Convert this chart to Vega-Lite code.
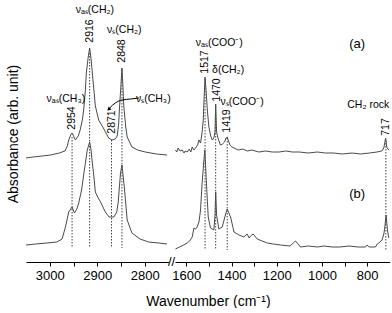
{
  "$schema": "https://vega.github.io/schema/vega-lite/v6.json",
  "padding": {"left": 6, "top": 5, "right": 0, "bottom": 0},
  "background": "white",
  "config": {
    "view": {"stroke": null},
    "font": "Liberation Sans",
    "axis": {"labelFont": "Liberation Sans", "titleFont": "Liberation Sans", "titleFontWeight": "normal", "labelColor": "black", "titleColor": "black", "domainColor": "black", "tickColor": "black", "grid": false}
  },
  "datasets": {
    "spec": [
      {"p": "L", "s": "a", "w": 3050, "y": 104}, {"p": "L", "s": "a", "w": 3035, "y": 105}, {"p": "L", "s": "a", "w": 3016, "y": 106}, {"p": "L", "s": "a", "w": 2998, "y": 107}, {"p": "L", "s": "a", "w": 2980, "y": 109}, {"p": "L", "s": "a", "w": 2968, "y": 111}, {"p": "L", "s": "a", "w": 2963, "y": 116}, {"p": "L", "s": "a", "w": 2960, "y": 122}, {"p": "L", "s": "a", "w": 2956, "y": 127}, {"p": "L", "s": "a", "w": 2953, "y": 129}, {"p": "L", "s": "a", "w": 2949, "y": 125}, {"p": "L", "s": "a", "w": 2946, "y": 122}, {"p": "L", "s": "a", "w": 2940, "y": 126}, {"p": "L", "s": "a", "w": 2936, "y": 132}, {"p": "L", "s": "a", "w": 2931, "y": 143}, {"p": "L", "s": "a", "w": 2928, "y": 155}, {"p": "L", "s": "a", "w": 2925, "y": 172}, {"p": "L", "s": "a", "w": 2923, "y": 189}, {"p": "L", "s": "a", "w": 2919, "y": 205}, {"p": "L", "s": "a", "w": 2916, "y": 214}, {"p": "L", "s": "a", "w": 2913, "y": 203}, {"p": "L", "s": "a", "w": 2909, "y": 182}, {"p": "L", "s": "a", "w": 2904, "y": 156}, {"p": "L", "s": "a", "w": 2897, "y": 142}, {"p": "L", "s": "a", "w": 2886, "y": 133}, {"p": "L", "s": "a", "w": 2876, "y": 124}, {"p": "L", "s": "a", "w": 2869, "y": 122}, {"p": "L", "s": "a", "w": 2862, "y": 123}, {"p": "L", "s": "a", "w": 2858, "y": 126}, {"p": "L", "s": "a", "w": 2855, "y": 138}, {"p": "L", "s": "a", "w": 2853, "y": 155}, {"p": "L", "s": "a", "w": 2850, "y": 178}, {"p": "L", "s": "a", "w": 2848, "y": 194}, {"p": "L", "s": "a", "w": 2846, "y": 176}, {"p": "L", "s": "a", "w": 2844, "y": 155}, {"p": "L", "s": "a", "w": 2840, "y": 135}, {"p": "L", "s": "a", "w": 2837, "y": 125}, {"p": "L", "s": "a", "w": 2827, "y": 115}, {"p": "L", "s": "a", "w": 2815, "y": 112}, {"p": "L", "s": "a", "w": 2799, "y": 110}, {"p": "L", "s": "a", "w": 2775, "y": 108}, {"p": "L", "s": "a", "w": 2753, "y": 107},
      {"p": "L", "s": "b", "w": 3050, "y": 17}, {"p": "L", "s": "b", "w": 3030, "y": 18}, {"p": "L", "s": "b", "w": 3006, "y": 19}, {"p": "L", "s": "b", "w": 2985, "y": 20}, {"p": "L", "s": "b", "w": 2974, "y": 23}, {"p": "L", "s": "b", "w": 2967, "y": 35}, {"p": "L", "s": "b", "w": 2960, "y": 50}, {"p": "L", "s": "b", "w": 2953, "y": 55}, {"p": "L", "s": "b", "w": 2948, "y": 49}, {"p": "L", "s": "b", "w": 2943, "y": 53}, {"p": "L", "s": "b", "w": 2939, "y": 59}, {"p": "L", "s": "b", "w": 2933, "y": 72}, {"p": "L", "s": "b", "w": 2928, "y": 89}, {"p": "L", "s": "b", "w": 2921, "y": 112}, {"p": "L", "s": "b", "w": 2916, "y": 120}, {"p": "L", "s": "b", "w": 2913, "y": 112}, {"p": "L", "s": "b", "w": 2911, "y": 102}, {"p": "L", "s": "b", "w": 2907, "y": 85}, {"p": "L", "s": "b", "w": 2904, "y": 70}, {"p": "L", "s": "b", "w": 2898, "y": 64}, {"p": "L", "s": "b", "w": 2893, "y": 60}, {"p": "L", "s": "b", "w": 2883, "y": 50}, {"p": "L", "s": "b", "w": 2875, "y": 45}, {"p": "L", "s": "b", "w": 2865, "y": 45}, {"p": "L", "s": "b", "w": 2859, "y": 50}, {"p": "L", "s": "b", "w": 2856, "y": 59}, {"p": "L", "s": "b", "w": 2851, "y": 89}, {"p": "L", "s": "b", "w": 2848, "y": 97}, {"p": "L", "s": "b", "w": 2843, "y": 75}, {"p": "L", "s": "b", "w": 2837, "y": 42}, {"p": "L", "s": "b", "w": 2827, "y": 29}, {"p": "L", "s": "b", "w": 2810, "y": 23}, {"p": "L", "s": "b", "w": 2792, "y": 20}, {"p": "L", "s": "b", "w": 2770, "y": 19}, {"p": "L", "s": "b", "w": 2753, "y": 18},
      {"p": "R", "s": "a", "w": 1648, "y": 112}, {"p": "R", "s": "a", "w": 1642, "y": 110}, {"p": "R", "s": "a", "w": 1636, "y": 114}, {"p": "R", "s": "a", "w": 1628, "y": 111}, {"p": "R", "s": "a", "w": 1618, "y": 112}, {"p": "R", "s": "a", "w": 1610, "y": 109}, {"p": "R", "s": "a", "w": 1605, "y": 111}, {"p": "R", "s": "a", "w": 1596, "y": 110}, {"p": "R", "s": "a", "w": 1587, "y": 113}, {"p": "R", "s": "a", "w": 1580, "y": 110}, {"p": "R", "s": "a", "w": 1574, "y": 115}, {"p": "R", "s": "a", "w": 1566, "y": 112}, {"p": "R", "s": "a", "w": 1559, "y": 114}, {"p": "R", "s": "a", "w": 1550, "y": 117}, {"p": "R", "s": "a", "w": 1544, "y": 122}, {"p": "R", "s": "a", "w": 1537, "y": 119}, {"p": "R", "s": "a", "w": 1530, "y": 130}, {"p": "R", "s": "a", "w": 1525, "y": 142}, {"p": "R", "s": "a", "w": 1521, "y": 165}, {"p": "R", "s": "a", "w": 1517, "y": 185}, {"p": "R", "s": "a", "w": 1512, "y": 170}, {"p": "R", "s": "a", "w": 1507, "y": 152}, {"p": "R", "s": "a", "w": 1500, "y": 135}, {"p": "R", "s": "a", "w": 1492, "y": 126}, {"p": "R", "s": "a", "w": 1485, "y": 122}, {"p": "R", "s": "a", "w": 1478, "y": 124}, {"p": "R", "s": "a", "w": 1473, "y": 130}, {"p": "R", "s": "a", "w": 1470, "y": 158}, {"p": "R", "s": "a", "w": 1466, "y": 130}, {"p": "R", "s": "a", "w": 1460, "y": 124}, {"p": "R", "s": "a", "w": 1449, "y": 117}, {"p": "R", "s": "a", "w": 1440, "y": 118}, {"p": "R", "s": "a", "w": 1431, "y": 120}, {"p": "R", "s": "a", "w": 1424, "y": 124}, {"p": "R", "s": "a", "w": 1419, "y": 125}, {"p": "R", "s": "a", "w": 1413, "y": 121}, {"p": "R", "s": "a", "w": 1407, "y": 117}, {"p": "R", "s": "a", "w": 1398, "y": 115}, {"p": "R", "s": "a", "w": 1389, "y": 114}, {"p": "R", "s": "a", "w": 1370, "y": 112}, {"p": "R", "s": "a", "w": 1350, "y": 113}, {"p": "R", "s": "a", "w": 1330, "y": 111}, {"p": "R", "s": "a", "w": 1310, "y": 112}, {"p": "R", "s": "a", "w": 1279, "y": 110}, {"p": "R", "s": "a", "w": 1250, "y": 111}, {"p": "R", "s": "a", "w": 1220, "y": 110}, {"p": "R", "s": "a", "w": 1190, "y": 110}, {"p": "R", "s": "a", "w": 1160, "y": 111}, {"p": "R", "s": "a", "w": 1131, "y": 110}, {"p": "R", "s": "a", "w": 1100, "y": 110}, {"p": "R", "s": "a", "w": 1060, "y": 109}, {"p": "R", "s": "a", "w": 1020, "y": 110}, {"p": "R", "s": "a", "w": 985, "y": 109}, {"p": "R", "s": "a", "w": 950, "y": 109}, {"p": "R", "s": "a", "w": 910, "y": 108}, {"p": "R", "s": "a", "w": 866, "y": 109}, {"p": "R", "s": "a", "w": 830, "y": 108}, {"p": "R", "s": "a", "w": 790, "y": 109}, {"p": "R", "s": "a", "w": 756, "y": 110}, {"p": "R", "s": "a", "w": 735, "y": 111}, {"p": "R", "s": "a", "w": 726, "y": 114}, {"p": "R", "s": "a", "w": 718, "y": 124}, {"p": "R", "s": "a", "w": 712, "y": 114}, {"p": "R", "s": "a", "w": 703, "y": 112},
      {"p": "R", "s": "b", "w": 1648, "y": 13}, {"p": "R", "s": "b", "w": 1630, "y": 15}, {"p": "R", "s": "b", "w": 1612, "y": 17}, {"p": "R", "s": "b", "w": 1596, "y": 19}, {"p": "R", "s": "b", "w": 1585, "y": 21}, {"p": "R", "s": "b", "w": 1574, "y": 25}, {"p": "R", "s": "b", "w": 1566, "y": 34}, {"p": "R", "s": "b", "w": 1559, "y": 33}, {"p": "R", "s": "b", "w": 1552, "y": 35}, {"p": "R", "s": "b", "w": 1544, "y": 40}, {"p": "R", "s": "b", "w": 1537, "y": 52}, {"p": "R", "s": "b", "w": 1530, "y": 79}, {"p": "R", "s": "b", "w": 1522, "y": 102}, {"p": "R", "s": "b", "w": 1518, "y": 112}, {"p": "R", "s": "b", "w": 1511, "y": 79}, {"p": "R", "s": "b", "w": 1503, "y": 45}, {"p": "R", "s": "b", "w": 1493, "y": 34}, {"p": "R", "s": "b", "w": 1478, "y": 32}, {"p": "R", "s": "b", "w": 1473, "y": 47}, {"p": "R", "s": "b", "w": 1470, "y": 70}, {"p": "R", "s": "b", "w": 1466, "y": 47}, {"p": "R", "s": "b", "w": 1456, "y": 33}, {"p": "R", "s": "b", "w": 1441, "y": 35}, {"p": "R", "s": "b", "w": 1427, "y": 47}, {"p": "R", "s": "b", "w": 1419, "y": 53}, {"p": "R", "s": "b", "w": 1404, "y": 45}, {"p": "R", "s": "b", "w": 1389, "y": 30}, {"p": "R", "s": "b", "w": 1367, "y": 27}, {"p": "R", "s": "b", "w": 1345, "y": 25}, {"p": "R", "s": "b", "w": 1331, "y": 28}, {"p": "R", "s": "b", "w": 1322, "y": 24}, {"p": "R", "s": "b", "w": 1316, "y": 26}, {"p": "R", "s": "b", "w": 1304, "y": 28}, {"p": "R", "s": "b", "w": 1286, "y": 23}, {"p": "R", "s": "b", "w": 1265, "y": 21}, {"p": "R", "s": "b", "w": 1242, "y": 19}, {"p": "R", "s": "b", "w": 1215, "y": 18}, {"p": "R", "s": "b", "w": 1183, "y": 17}, {"p": "R", "s": "b", "w": 1140, "y": 16}, {"p": "R", "s": "b", "w": 1127, "y": 19}, {"p": "R", "s": "b", "w": 1117, "y": 21}, {"p": "R", "s": "b", "w": 1105, "y": 18}, {"p": "R", "s": "b", "w": 1095, "y": 15}, {"p": "R", "s": "b", "w": 1060, "y": 16}, {"p": "R", "s": "b", "w": 1020, "y": 15}, {"p": "R", "s": "b", "w": 990, "y": 16}, {"p": "R", "s": "b", "w": 955, "y": 15}, {"p": "R", "s": "b", "w": 920, "y": 15}, {"p": "R", "s": "b", "w": 880, "y": 16}, {"p": "R", "s": "b", "w": 840, "y": 15}, {"p": "R", "s": "b", "w": 807, "y": 15}, {"p": "R", "s": "b", "w": 800, "y": 17}, {"p": "R", "s": "b", "w": 791, "y": 15}, {"p": "R", "s": "b", "w": 763, "y": 15}, {"p": "R", "s": "b", "w": 755, "y": 18}, {"p": "R", "s": "b", "w": 748, "y": 19}, {"p": "R", "s": "b", "w": 734, "y": 22}, {"p": "R", "s": "b", "w": 726, "y": 28}, {"p": "R", "s": "b", "w": 722, "y": 34}, {"p": "R", "s": "b", "w": 716, "y": 47}, {"p": "R", "s": "b", "w": 710, "y": 32}, {"p": "R", "s": "b", "w": 704, "y": 24}
    ],
    "drops": [
      {"p": "L", "w": 2953, "y1": 125, "y2": 14}, {"p": "L", "w": 2916, "y1": 212, "y2": 14}, {"p": "L", "w": 2870, "y1": 122, "y2": 14}, {"p": "L", "w": 2848, "y1": 192, "y2": 14},
      {"p": "R", "w": 1517, "y1": 183, "y2": 12}, {"p": "R", "w": 1470, "y1": 156, "y2": 12}, {"p": "R", "w": 1419, "y1": 124, "y2": 12}, {"p": "R", "w": 717, "y1": 122, "y2": 12}
    ],
    "nums": [
      {"p": "L", "w": 2953, "y": 144, "t": "2954"}, {"p": "L", "w": 2915, "y": 231, "t": "2916"}, {"p": "L", "w": 2869, "y": 140, "t": "2871"}, {"p": "L", "w": 2848, "y": 211, "t": "2848"},
      {"p": "R", "w": 1519, "y": 200, "t": "1517"}, {"p": "R", "w": 1463, "y": 172, "t": "1470"}, {"p": "R", "w": 1419, "y": 141, "t": "1419"}, {"p": "R", "w": 718, "y": 135, "t": "717"}
    ],
    "labs": [
      {"p": "L", "w": 2966, "y": 163, "t": "νₐₛ(CH₃)"}, {"p": "L", "w": 2905, "y": 252, "t": "νₐₛ(CH₂)"}, {"p": "L", "w": 2843, "y": 232, "t": "νₛ(CH₂)"}, {"p": "L", "w": 2782, "y": 163, "t": "νₛ(CH₃)"},
      {"p": "R", "w": 1454, "y": 219, "t": "νₐₛ(COO⁻)"}, {"p": "R", "w": 1415, "y": 192, "t": "δ(CH₂)"}, {"p": "R", "w": 1353, "y": 160, "t": "νₛ(COO⁻)"}, {"p": "R", "w": 795, "y": 157, "t": "CH₂ rock"}
    ],
    "tags": [
      {"w": 844, "y": 218, "t": "(a)"}, {"w": 844, "y": 68, "t": "(b)"}
    ],
    "arrow": [
      {"w": 2812, "y": 164}, {"w": 2830, "y": 163}, {"w": 2848, "y": 162}, {"w": 2862, "y": 159}, {"w": 2874, "y": 154}
    ],
    "arrowhead": [{"w": 2875, "y": 153}],
    "brk": [{"w": 2750, "y": 0, "t": "//"}]
  },
  "hconcat": [
    {
      "width": 142.5,
      "height": 257,
      "encoding": {
        "x": {"field": "w", "type": "quantitative", "scale": {"domain": [2750, 3050], "reverse": true, "zero": false, "nice": false},
          "axis": {"title": null, "values": [3000, 2950, 2900, 2850, 2800], "format": "d", "labelExpr": "datum.value % 100 === 0 ? datum.label : ''", "tickSize": 4, "labelFontSize": 13, "labelPadding": 3, "domainWidth": 1}},
        "y": {"field": "y", "type": "quantitative", "scale": {"domain": [0, 257], "zero": false, "nice": false},
          "axis": {"title": "Absorbance (arb. unit)", "domain": false, "ticks": false, "labels": false, "titleFontSize": 14, "titlePadding": 6}}
      },
      "layer": [
        {"data": {"name": "drops"}, "transform": [{"filter": "datum.p === 'L'"}], "mark": {"type": "rule", "strokeDash": [1.5, 1.5], "color": "#444", "strokeWidth": 1},
          "encoding": {"y": {"field": "y1", "type": "quantitative"}, "y2": {"field": "y2"}}},
        {"data": {"name": "spec"}, "transform": [{"filter": "datum.p === 'L'"}], "mark": {"type": "line", "color": "#4a4a4a", "strokeWidth": 1},
          "encoding": {"detail": {"field": "s"}}},
        {"data": {"name": "nums"}, "transform": [{"filter": "datum.p === 'L'"}], "mark": {"type": "text", "angle": 270, "align": "center", "baseline": "middle", "fontSize": 10.5, "color": "black"},
          "encoding": {"text": {"field": "t"}}},
        {"data": {"name": "labs"}, "transform": [{"filter": "datum.p === 'L'"}], "mark": {"type": "text", "align": "center", "baseline": "middle", "fontSize": 10.5, "color": "black"},
          "encoding": {"text": {"field": "t"}}},
        {"data": {"name": "arrow"}, "mark": {"type": "line", "color": "black", "strokeWidth": 1, "interpolate": "monotone"}, "encoding": {}},
        {"data": {"name": "arrowhead"}, "mark": {"type": "point", "shape": "triangle", "angle": 230, "filled": true, "color": "black", "size": 18, "opacity": 1}, "encoding": {}},
        {"data": {"name": "brk"}, "mark": {"type": "text", "align": "center", "baseline": "middle", "dx": 3, "fontSize": 13, "color": "black"}, "encoding": {"text": {"field": "t"}}}
      ]
    },
    {
      "width": 214.7,
      "height": 257,
      "encoding": {
        "x": {"field": "w", "type": "quantitative", "scale": {"domain": [700, 1650], "reverse": true, "zero": false, "nice": false},
          "axis": {"title": "Wavenumber (cm⁻¹)", "titleFontSize": 14, "titleX": 33, "titleY": 39, "titleAlign": "center", "titleBaseline": "middle", "values": [1600, 1500, 1400, 1300, 1200, 1100, 1000, 900, 800], "format": "d", "labelExpr": "datum.value % 200 === 0 ? datum.label : ''", "tickSize": 4, "labelFontSize": 13, "labelPadding": 3}},
        "y": {"field": "y", "type": "quantitative", "scale": {"domain": [0, 257], "zero": false, "nice": false}, "axis": null}
      },
      "layer": [
        {"data": {"name": "drops"}, "transform": [{"filter": "datum.p === 'R'"}], "mark": {"type": "rule", "strokeDash": [1.5, 1.5], "color": "#444", "strokeWidth": 1},
          "encoding": {"y": {"field": "y1", "type": "quantitative"}, "y2": {"field": "y2"}}},
        {"data": {"name": "spec"}, "transform": [{"filter": "datum.p === 'R'"}], "mark": {"type": "line", "color": "#4a4a4a", "strokeWidth": 1},
          "encoding": {"detail": {"field": "s"}}},
        {"data": {"name": "nums"}, "transform": [{"filter": "datum.p === 'R'"}], "mark": {"type": "text", "angle": 270, "align": "center", "baseline": "middle", "fontSize": 10.5, "color": "black"},
          "encoding": {"text": {"field": "t"}}},
        {"data": {"name": "labs"}, "transform": [{"filter": "datum.p === 'R'"}], "mark": {"type": "text", "align": "center", "baseline": "middle", "fontSize": 10.5, "color": "black"},
          "encoding": {"text": {"field": "t"}}},
        {"data": {"name": "tags"}, "mark": {"type": "text", "align": "center", "baseline": "middle", "fontSize": 13, "color": "black"},
          "encoding": {"text": {"field": "t"}}}
      ]
    }
  ],
  "spacing": 6,
  "bounds": "flush"
}
